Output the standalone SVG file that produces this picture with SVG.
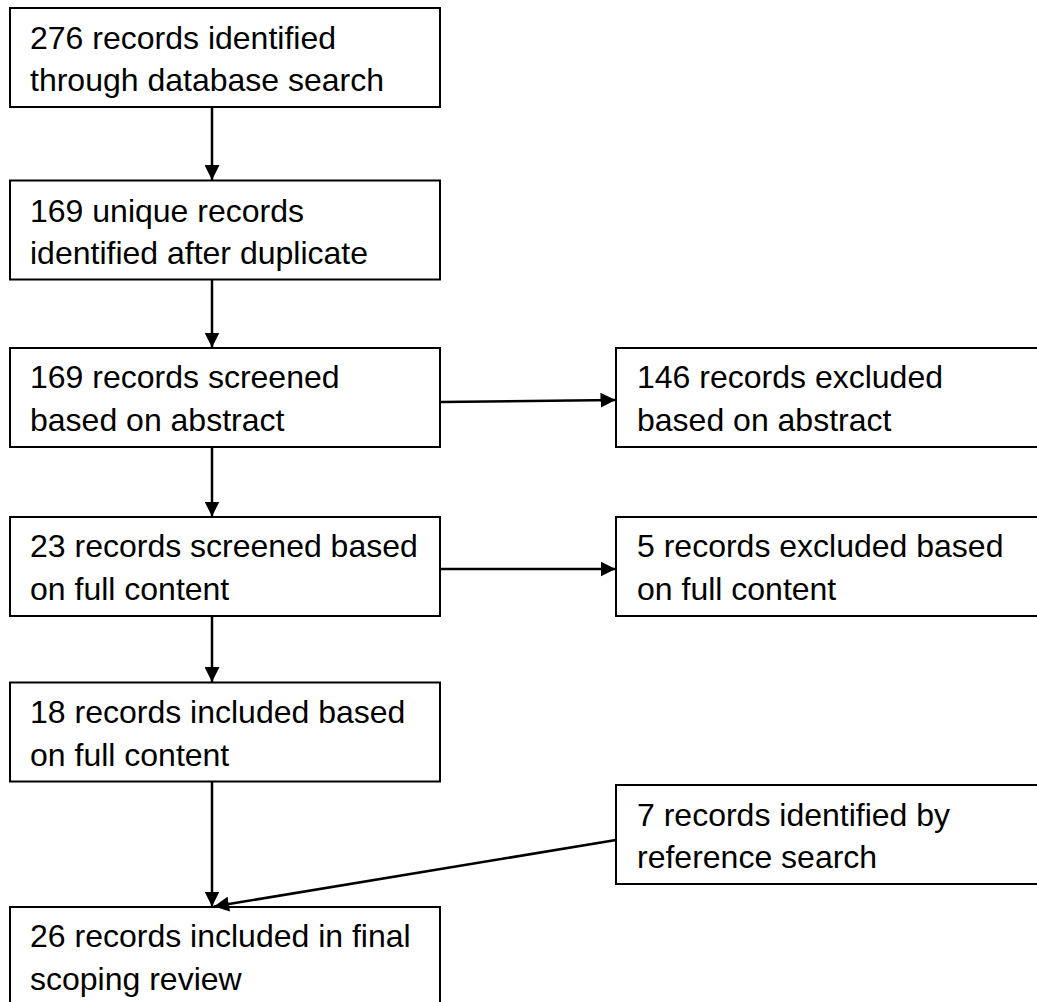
<svg xmlns="http://www.w3.org/2000/svg" width="1037" height="1002" viewBox="0 0 1037 1002">
<style>
.box{fill:#fff;stroke:#000;stroke-width:2}
.t{font-family:"Liberation Sans",Arial,sans-serif;font-size:32px;fill:#000}
.c{stroke:#000;stroke-width:2.5;fill:none;marker-end:url(#ah)}
</style>
<defs>
<marker id="ah" markerUnits="userSpaceOnUse" markerWidth="16" markerHeight="15" refX="15" refY="7.5" orient="auto">
<path d="M0,0 L15,7.5 L0,15 z" fill="#000"/>
</marker>
</defs>
<rect width="1037" height="1002" fill="#fff"/>
<g id="n1"><rect class="box" x="10" y="8" width="430" height="99"/><text class="t" x="30" y="48.5">276 records identified</text><text class="t" x="30" y="91">through database search</text></g>
<g id="n2"><rect class="box" x="10" y="180.5" width="430" height="99"/><text class="t" x="30" y="221.5">169 unique records</text><text class="t" x="30" y="264">identified after duplicate</text></g>
<g id="n3"><rect class="box" x="10" y="348" width="430" height="99"/><text class="t" x="30" y="388">169 records screened</text><text class="t" x="30" y="431">based on abstract</text></g>
<g id="n4"><rect class="box" x="616" y="348" width="430" height="99"/><text class="t" x="637" y="388">146 records excluded</text><text class="t" x="637" y="431">based on abstract</text></g>
<g id="n5"><rect class="box" x="10" y="517" width="430" height="99"/><text class="t" x="30" y="557">23 records screened based</text><text class="t" x="30" y="600">on full content</text></g>
<g id="n6"><rect class="box" x="616" y="517" width="430" height="99"/><text class="t" x="637" y="557">5 records excluded based</text><text class="t" x="637" y="600">on full content</text></g>
<g id="n7"><rect class="box" x="10" y="682.5" width="430" height="99"/><text class="t" x="30" y="723">18 records included based</text><text class="t" x="30" y="766">on full content</text></g>
<g id="n8"><rect class="box" x="616" y="785" width="430" height="99"/><text class="t" x="637" y="825.5">7 records identified by</text><text class="t" x="637" y="868">reference search</text></g>
<g id="n9"><rect class="box" x="10" y="907" width="430" height="120"/><text class="t" x="30" y="947">26 records included in final</text><text class="t" x="30" y="990">scoping review</text></g>
<g id="connectors">
<line class="c" x1="212" y1="108" x2="212" y2="180"/>
<line class="c" x1="212" y1="280" x2="212" y2="347.5"/>
<line class="c" x1="212" y1="448" x2="212" y2="516.5"/>
<line class="c" x1="212" y1="617" x2="212" y2="682"/>
<line class="c" x1="212" y1="782" x2="212" y2="906.5"/>
<line class="c" x1="441" y1="402" x2="615.5" y2="400"/>
<line class="c" x1="441" y1="569" x2="615.5" y2="569"/>
<line class="c" x1="616" y1="840" x2="214" y2="906.5"/>
</g>
</svg>
